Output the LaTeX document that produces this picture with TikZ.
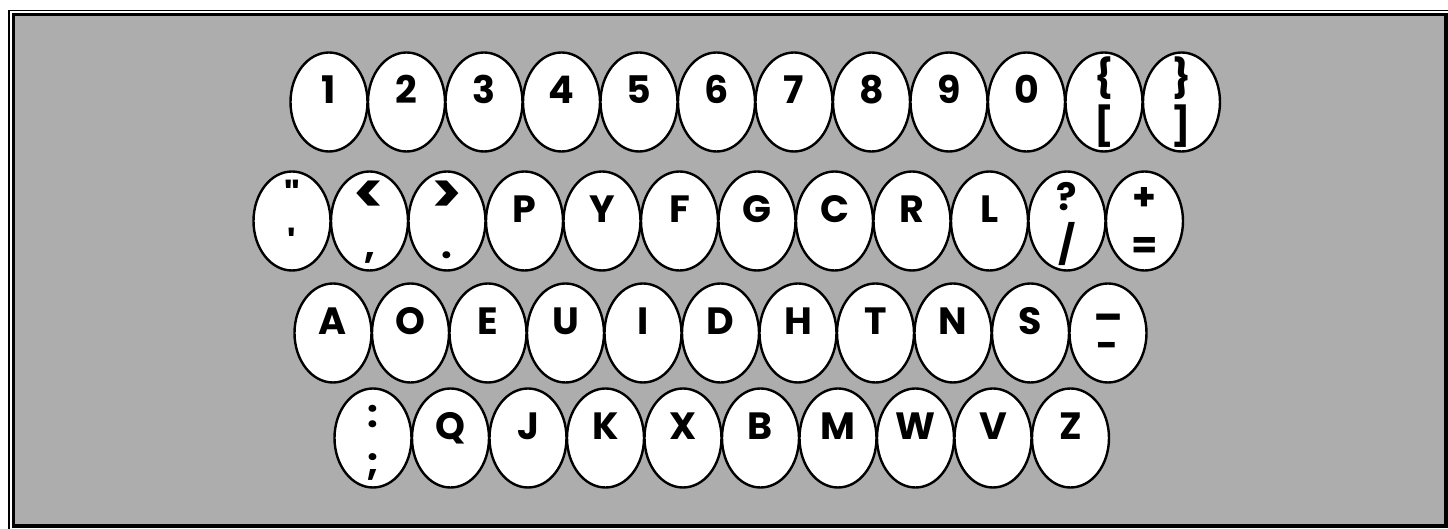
\documentclass[tikz,border=0pt]{standalone}
\usepackage{fontspec}
\usepackage{tikz}
\usetikzlibrary{shapes.geometric}
\usepackage{xcolor}

\newfontfamily\keyfamily{Poppins}
\newcommand{\keyfont}{\keyfamily\bfseries\fontsize{19pt}{22pt}\selectfont}
\newcommand{\bigsign}[1]{\raisebox{-1.5pt}{\scalebox{1.5}{#1}}}
\definecolor{paper}{gray}{0.68}

\begin{document}
\begin{tikzpicture}[x=0.5pt,y=-0.5pt,
  key/.style={ellipse,draw,fill=white,line width=1.2pt,minimum width=38.5pt,minimum height=49.5pt,inner sep=0pt},
  keycap/.style={font=\keyfont,inner sep=0pt,text height=13.5pt,text depth=0pt}]
  \useasboundingbox (0,0) rectangle (1448,529);
  % frame
  \draw[line width=0.6pt] (9,10.5) rectangle (1452,533);
  \draw[fill=paper,line width=1.8pt] (13.5,14.5) rectangle (1446,526);
  % number row
  \foreach \c [count=\i] in {1,2,3,4,5,6,7,8,9,0} {
    \node[key] (a\i) at ({329+77.5*(\i-1)},102) {};
    \node[keycap,yshift=6pt] (ta\i) at (a\i) {\c};
  }
  \foreach \hi/\lo [count=\i from 11] in {{\{}/{[},{\}}/{]}} {
    \node[key] (a\i) at ({329+77.5*(\i-1)},102) {};
    \node[keycap,yshift=12pt] (ua\i) at (a\i) {\hi};
    \node[keycap,yshift=-12pt] (la\i) at (a\i) {\lo};
  }
  % upper row
  \foreach \hi/\lo [count=\i] in {{"}/{\textquotesingle},{\bigsign{<}}/{,},{\bigsign{>}}/{.}} {
    \node[key] (b\i) at ({292+77.5*(\i-1)},221) {};
    \node[keycap,yshift=12pt] (ub\i) at (b\i) {\hi};
    \node[keycap,yshift=-12pt] (lb\i) at (b\i) {\lo};
  }
  \foreach \c [count=\i from 4] in {P,Y,F,G,C,R,L} {
    \node[key] (b\i) at ({292+77.5*(\i-1)},221) {};
    \node[keycap,yshift=6pt] (tb\i) at (b\i) {\c};
  }
  \foreach \hi/\lo [count=\i from 11] in {{?}/{/},{+}/{=}} {
    \node[key] (b\i) at ({292+77.5*(\i-1)},221) {};
    \node[keycap,yshift=12pt] (ub\i) at (b\i) {\hi};
    \node[keycap,yshift=-12pt] (lb\i) at (b\i) {\lo};
  }
  % home row
  \foreach \c [count=\i] in {A,O,E,U,I,D,H,T,N,S} {
    \node[key] (c\i) at ({333+77.5*(\i-1)},333) {};
    \node[keycap,yshift=6pt] (tc\i) at (c\i) {\c};
  }
  \node[key] (c11) at (1108,333) {};
  \node[keycap,yshift=12pt] (uc11) at (c11) {\raisebox{5pt}{\_}};
  \node[keycap,yshift=-12pt] (lc11) at (c11) {\raisebox{6pt}{-}};
  % lower row
  \node[key] (d1) at (373,438) {};
  \node[keycap,yshift=12pt] (ud1) at (d1) {:};
  \node[keycap,yshift=-12pt] (ld1) at (d1) {;};
  \foreach \c [count=\i from 2] in {Q,J,K,X,B,M,W,V,Z} {
    \node[key] (d\i) at ({373+77.5*(\i-1)},438) {};
    \node[keycap,yshift=6pt] (td\i) at (d\i) {\c};
  }
\end{tikzpicture}
\end{document}
